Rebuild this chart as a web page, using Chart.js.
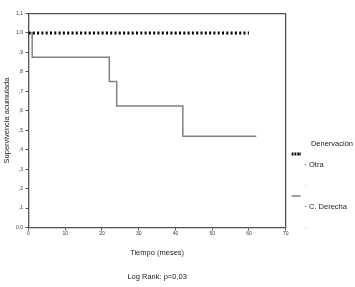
<!DOCTYPE html>
<html>
<head>
<meta charset="utf-8">
<script src="https://cdn.jsdelivr.net/npm/chart.js@4/dist/chart.umd.min.js"></script>
<style>
  html, body { margin: 0; padding: 0; background: #ffffff; }
  canvas { display: block; }
</style>
</head>
<body>
<canvas id="c" width="355" height="287"></canvas>
<script>
// ---- data ----
const otraTime = [0, 60];
const otraSurv = [1.0, 1.0];
const derechaTime = [0, 1, 22, 24, 42, 62];
const derechaSurv = [1.0, 0.875, 0.75, 0.625, 0.469, 0.469];
const xTickValues = [0, 10, 20, 30, 40, 50, 60, 70];
const xTickLabels = ['0', '10', '20', '30', '40', '50', '60', '70'];
const yTickValues = [0, 0.1, 0.2, 0.3, 0.4, 0.5, 0.6, 0.7, 0.8, 0.9, 1.0, 1.1];
const yTickLabels = ['0,0', ',1', ',2', ',3', ',4', ',5', ',6', ',7', ',8', ',9', '1,0', '1,1'];
const seriesNames = ['Otra', 'C. Derecha'];
const legendTitle = 'Denervación';
const xTitle = 'Tiempo (meses)';
const yTitle = 'Supervivencia acumulada';
const footNote = 'Log Rank: p=0,03';

// ---- styles ----
const frameColor = '#465453';
const textColor = '#222222';
const otraColor = '#000000';
const derechaColor = '#808080';
Chart.defaults.font.family = '"Liberation Sans", Arial, sans-serif';

const toPts = (xs, ys) => xs.map((x, i) => ({ x: x, y: ys[i] }));

const legendRows = [
  { text: '', fillStyle: 'rgba(0,0,0,0)', strokeStyle: otraColor, lineWidth: 3, lineDash: [1.8, 1.0, 1.8, 1.0, 1.8, 1.0, 1.8, 60] },
  { text: '· ' + seriesNames[0], fillStyle: 'rgba(0,0,0,0)', strokeStyle: 'rgba(0,0,0,0)', lineWidth: 0 },
  { text: '', fillStyle: 'rgba(0,0,0,0)', strokeStyle: 'rgba(0,0,0,0)', lineWidth: 0 },
  { text: '·', fillStyle: 'rgba(0,0,0,0)', strokeStyle: 'rgba(0,0,0,0)', lineWidth: 0, fontColor: '#999' },
  { text: '', fillStyle: 'rgba(0,0,0,0)', strokeStyle: derechaColor, lineWidth: 1.5, lineDash: [] },
  { text: '· ' + seriesNames[1], fillStyle: 'rgba(0,0,0,0)', strokeStyle: 'rgba(0,0,0,0)', lineWidth: 0 },
  { text: '', fillStyle: 'rgba(0,0,0,0)', strokeStyle: 'rgba(0,0,0,0)', lineWidth: 0 },
  { text: '·', fillStyle: 'rgba(0,0,0,0)', strokeStyle: 'rgba(0,0,0,0)', lineWidth: 0, fontColor: '#999' }
];

new Chart(document.getElementById('c'), {
  type: 'line',
  data: {
    datasets: [
      {
        label: seriesNames[0],
        data: toPts(otraTime, otraSurv),
        borderColor: otraColor,
        borderWidth: 3,
        borderDash: [2, 2.3],
        pointRadius: 0,
        fill: false,
        tension: 0
      },
      {
        label: seriesNames[1],
        data: toPts(derechaTime, derechaSurv),
        borderColor: derechaColor,
        borderWidth: 1.5,
        stepped: true,
        pointRadius: 0,
        fill: false
      }
    ]
  },
  options: {
    responsive: false,
    animation: false,
    devicePixelRatio: 1,
    layout: { padding: { top: 5.5, right: 2, bottom: 0, left: 0 } },
    scales: {
      x: {
        type: 'linear',
        position: 'bottom',
        min: 0, max: 70,
        afterBuildTicks: s => { s.ticks = xTickValues.map(v => ({ value: v })); },
        afterFit: s => { s.height = 44.5; },
        ticks: {
          callback: (v, i) => xTickLabels[i],
          font: { size: 5 },
          color: '#333',
          padding: 0,
          maxRotation: 0,
          autoSkip: false
        },
        grid: { display: true, drawOnChartArea: false, drawTicks: true, tickLength: 3, color: frameColor, lineWidth: 1 },
        border: { display: true, color: frameColor, width: 1.3 },
        title: { display: true, text: xTitle, color: textColor, font: { size: 7.5 }, padding: { top: 0, bottom: 14.5 } }
      },
      y: {
        type: 'linear',
        position: 'left',
        min: 0, max: 1.1,
        afterBuildTicks: s => { s.ticks = yTickValues.map(v => ({ value: v })); },
        afterFit: s => { s.width = 28.5; },
        ticks: {
          callback: (v, i) => yTickLabels[i],
          font: { size: 5 },
          color: '#333',
          padding: 2.5,
          autoSkip: false
        },
        grid: { display: true, drawOnChartArea: false, drawTicks: true, tickLength: 3, color: frameColor, lineWidth: 1 },
        border: { display: true, color: frameColor, width: 1.3 },
        title: { display: true, text: yTitle, color: textColor, font: { size: 7.5 }, padding: { top: 2, bottom: 0 } }
      },
      x2: {
        type: 'linear',
        position: 'top',
        min: 0, max: 70,
        ticks: { display: false },
        grid: { display: false },
        border: { display: true, color: frameColor, width: 1.3 }
      },
      y2: {
        type: 'linear',
        position: 'right',
        min: 0, max: 1.1,
        afterFit: s => { s.width = 3; },
        ticks: { display: false },
        grid: { display: false },
        border: { display: true, color: frameColor, width: 1.3 }
      }
    },
    plugins: {
      legend: {
        display: true,
        position: 'right',
        align: 'start',
        maxWidth: 64.3,
        title: {
          display: true,
          text: legendTitle,
          position: 'end',
          color: textColor,
          font: { size: 7.5 },
          padding: { top: 134.75, bottom: -2 }
        },
        labels: {
          boxWidth: 9,
          boxHeight: 0,
          padding: 3,
          color: textColor,
          font: { size: 7.5 },
          generateLabels: () => legendRows.map(r => Object.assign({ hidden: false, lineCap: 'butt', fontColor: textColor }, r))
        }
      },
      title: {
        display: true,
        text: footNote,
        position: 'bottom',
        fullSize: false,
        color: textColor,
        font: { size: 7.5, weight: 'normal' },
        padding: { top: 0, bottom: 6 }
      },
      tooltip: { enabled: false }
    }
  }
});
</script>
</body>
</html>
